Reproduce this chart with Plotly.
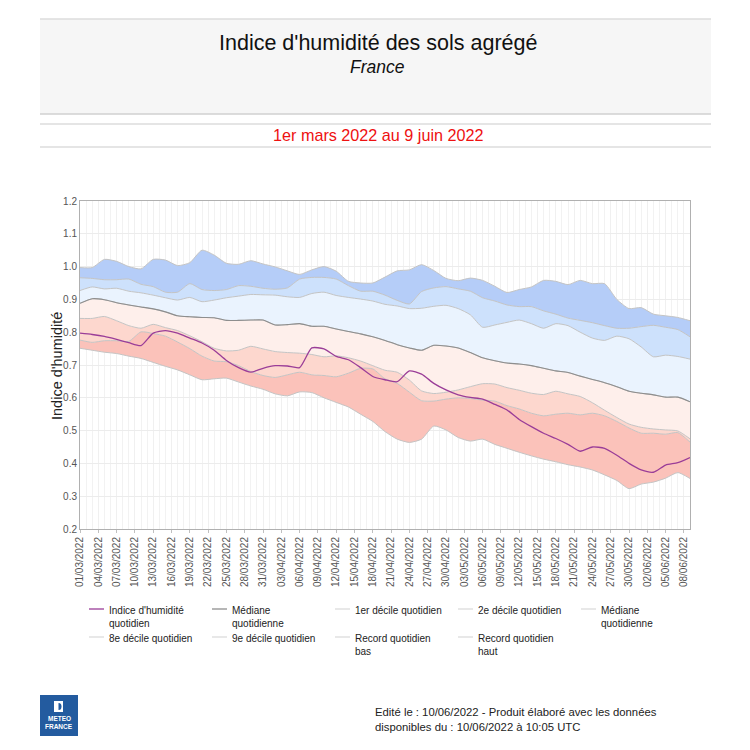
import plotly.graph_objects as go
import pandas as pd

# ---------------- data (one value every 2 days, 01/03/2022 -> 09/06/2022) ----------------
dates = pd.date_range("2022-03-01", "2022-06-09", freq="2D")

indice = [0.797, 0.793, 0.787, 0.778, 0.768, 0.759, 0.797, 0.805, 0.797, 0.782,
          0.767, 0.745, 0.714, 0.692, 0.678, 0.690, 0.698, 0.697, 0.692, 0.752,
          0.749, 0.726, 0.716, 0.692, 0.665, 0.655, 0.649, 0.682, 0.672, 0.644,
          0.624, 0.609, 0.601, 0.596, 0.580, 0.563, 0.534, 0.512, 0.492, 0.476,
          0.458, 0.437, 0.450, 0.446, 0.425, 0.400, 0.380, 0.373, 0.395, 0.402,
          0.418]

record_haut = [0.997, 0.997, 1.022, 1.016, 1.000, 0.993, 1.022, 1.020, 1.003, 1.012,
               1.050, 1.035, 1.010, 1.007, 1.018, 1.008, 0.999, 0.987, 0.976, 0.990,
               1.000, 0.986, 0.955, 0.950, 0.950, 0.968, 0.987, 0.990, 1.006, 0.988,
               0.964, 0.957, 0.965, 0.958, 0.940, 0.921, 0.930, 0.938, 0.958, 0.955,
               0.945, 0.958, 0.948, 0.948, 0.900, 0.872, 0.875, 0.855, 0.850, 0.845,
               0.835]

decile_9 = [0.966, 0.964, 0.960, 0.960, 0.962, 0.946, 0.939, 0.922, 0.922, 0.948,
            0.930, 0.927, 0.930, 0.942, 0.940, 0.934, 0.931, 0.935, 0.962, 0.967,
            0.967, 0.962, 0.942, 0.925, 0.925, 0.913, 0.897, 0.886, 0.924, 0.935,
            0.939, 0.932, 0.925, 0.905, 0.895, 0.883, 0.878, 0.878, 0.865, 0.855,
            0.843, 0.836, 0.829, 0.820, 0.812, 0.812, 0.817, 0.821, 0.815, 0.808,
            0.786]

decile_8 = [0.927, 0.938, 0.932, 0.934, 0.925, 0.920, 0.913, 0.905, 0.898, 0.906,
            0.893, 0.898, 0.905, 0.910, 0.915, 0.914, 0.913, 0.908, 0.906, 0.918,
            0.922, 0.912, 0.906, 0.901, 0.895, 0.885, 0.880, 0.872, 0.873, 0.879,
            0.882, 0.872, 0.853, 0.815, 0.822, 0.830, 0.837, 0.826, 0.812, 0.826,
            0.820, 0.800, 0.782, 0.775, 0.788, 0.780, 0.755, 0.725, 0.730, 0.726,
            0.718]

mediane = [0.888, 0.902, 0.899, 0.890, 0.883, 0.877, 0.871, 0.862, 0.850, 0.847,
           0.845, 0.844, 0.836, 0.836, 0.837, 0.837, 0.822, 0.823, 0.826, 0.818,
           0.818, 0.810, 0.802, 0.795, 0.786, 0.775, 0.762, 0.752, 0.745, 0.760,
           0.758, 0.752, 0.738, 0.722, 0.713, 0.706, 0.703, 0.698, 0.690, 0.682,
           0.677, 0.666, 0.656, 0.646, 0.634, 0.620, 0.614, 0.609, 0.602, 0.602,
           0.588]

decile_2 = [0.842, 0.842, 0.848, 0.835, 0.820, 0.812, 0.824, 0.814, 0.805, 0.789,
            0.771, 0.751, 0.743, 0.745, 0.757, 0.749, 0.741, 0.738, 0.736, 0.732,
            0.725, 0.728, 0.722, 0.712, 0.698, 0.684, 0.678, 0.654, 0.621, 0.613,
            0.617, 0.624, 0.634, 0.643, 0.642, 0.631, 0.623, 0.614, 0.610, 0.620,
            0.612, 0.604, 0.585, 0.562, 0.540, 0.520, 0.510, 0.505, 0.502, 0.499,
            0.475]

decile_1 = [0.776, 0.769, 0.774, 0.774, 0.772, 0.801, 0.796, 0.788, 0.770, 0.750,
            0.727, 0.712, 0.710, 0.698, 0.680, 0.668, 0.662, 0.670, 0.678, 0.670,
            0.668, 0.664, 0.675, 0.690, 0.688, 0.658, 0.644, 0.617, 0.591, 0.590,
            0.596, 0.600, 0.598, 0.593, 0.590, 0.576, 0.566, 0.553, 0.545, 0.550,
            0.553, 0.548, 0.553, 0.545, 0.528, 0.508, 0.492, 0.492, 0.489, 0.494,
            0.465]

record_bas = [0.751, 0.745, 0.739, 0.735, 0.727, 0.720, 0.708, 0.696, 0.685, 0.670,
              0.655, 0.658, 0.660, 0.648, 0.636, 0.626, 0.612, 0.606, 0.618, 0.616,
              0.600, 0.586, 0.572, 0.550, 0.528, 0.497, 0.474, 0.464, 0.474, 0.514,
              0.502, 0.479, 0.468, 0.474, 0.458, 0.446, 0.434, 0.423, 0.413, 0.405,
              0.396, 0.389, 0.380, 0.365, 0.348, 0.323, 0.337, 0.343, 0.355, 0.372,
              0.354]

legend_labels = ["Indice d'humidité<br>quotidien", "Médiane<br>quotidienne",
                 "1er décile quotidien", "2e décile quotidien", "Médiane<br>quotidienne",
                 "8e décile quotidien", "9e décile quotidien",
                 "Record quotidien<br>bas", "Record quotidien<br>haut"]

# ---------------- layout geometry (screen pixels; page body adds an 8 px offset) ----------------
W = H = 750
OFF = 8
SX0, SX1, SY0, SY1 = 80, 690, 201, 529        # plot area on screen
L, T = SX0 - OFF, SY0 - OFF
R, B = W - (SX1 - OFF), H - (SY1 - OFF)
PW, PH = SX1 - SX0, SY1 - SY0


def px(x):
    return (x - SX0) / PW


def py(y):
    return (SY1 - y) / PH


FONT = "Liberation Sans, Arial, sans-serif"
band_line = dict(color="#c4c4c4", width=1, shape="spline", smoothing=0.6)
legend_colors = ["#9a3d98", "#8e8e8e", "#dcdcdc", "#dcdcdc", "#dcdcdc",
                 "#dcdcdc", "#dcdcdc", "#dcdcdc", "#dcdcdc"]

fig = go.Figure()

bands = [
    (record_bas, None),
    (decile_1, "#fbc2ba"),
    (decile_2, "#fdd7ce"),
    (mediane, "#feefeb"),
    (decile_8, "#eaf3fe"),
    (decile_9, "#cde1fc"),
    (record_haut, "#b5cdf8"),
]
for vals, fc in bands:
    fig.add_trace(go.Scatter(
        x=dates, y=vals, mode="lines", line=band_line, showlegend=False,
        fill="tonexty" if fc else None, fillcolor=fc, hoverinfo="skip"))

fig.add_trace(go.Scatter(
    x=dates, y=mediane, mode="lines", showlegend=False,
    line=dict(color="#8e8e8e", width=1.1, shape="spline", smoothing=0.6)))
fig.add_trace(go.Scatter(
    x=dates, y=indice, mode="lines", showlegend=False,
    line=dict(color="#9a3d98", width=1.3, shape="spline", smoothing=0.6)))

# ---------------- decorations ----------------
def hline(y, color="#dcdcdc", w=1.5):
    return dict(type="line", xref="paper", yref="paper", x0=px(40), x1=px(711), y0=py(y), y1=py(y),
                line=dict(color=color, width=w))


shapes = [
    dict(type="rect", xref="paper", yref="paper", x0=px(40), x1=px(711), y0=py(114), y1=py(19),
         fillcolor="#f6f6f6", line=dict(width=0), layer="below"),
    hline(19), hline(114, "#d0d0d0"), hline(124), hline(147),
    # logo
    dict(type="rect", xref="paper", yref="paper", x0=px(40), x1=px(78), y0=py(736), y1=py(695),
         fillcolor="#235b9f", line=dict(width=0)),
    dict(type="rect", xref="paper", yref="paper", x0=px(54), x1=px(63), y0=py(712), y1=py(701),
         fillcolor="white", line=dict(width=0)),
    dict(type="circle", xref="paper", yref="paper", x0=px(56), x1=px(61.5), y0=py(710), y1=py(703),
         fillcolor="#235b9f", line=dict(width=0)),
    dict(type="rect", xref="paper", yref="paper", x0=px(54), x1=px(58.5), y0=py(710), y1=py(703),
         fillcolor="white", line=dict(width=0)),
]

annotations = [
    dict(text="Indice d'humidité des sols agrégé", x=px(378), y=py(43), xref="paper", yref="paper",
         showarrow=False, font=dict(size=21.5, color="#111", family=FONT), xanchor="center", yanchor="middle"),
    dict(text="<i>France</i>", x=px(377), y=py(67), xref="paper", yref="paper",
         showarrow=False, font=dict(size=17.5, color="#111", family=FONT), xanchor="center", yanchor="middle"),
    dict(text="1er mars 2022 au 9 juin 2022", x=px(378), y=py(135), xref="paper", yref="paper",
         showarrow=False, font=dict(size=16.2, color="#ee1111", family=FONT), xanchor="center", yanchor="middle"),
    dict(text="Edité le : 10/06/2022 - Produit élaboré avec les données<br>disponibles du : 10/06/2022 à 10:05 UTC",
         x=px(373), y=py(704), xref="paper", yref="paper", showarrow=False, align="left",
         font=dict(size=11.3, color="#222", family=FONT), xanchor="left", yanchor="top"),
    dict(text="<b>METEO</b>", x=px(59), y=py(718), xref="paper", yref="paper", showarrow=False,
         font=dict(size=6.5, color="white", family=FONT), xanchor="center", yanchor="middle"),
    dict(text="<b>FRANCE</b>", x=px(59), y=py(726), xref="paper", yref="paper", showarrow=False,
         font=dict(size=6.5, color="white", family=FONT), xanchor="center", yanchor="middle"),
    # y-axis title
    dict(text="Indice d'humidité", x=px(57), y=py(366), xref="paper", yref="paper", showarrow=False,
         textangle=-90, font=dict(size=14.5, color="#222", family=FONT), xanchor="center", yanchor="middle"),
]

# manual legend: 5 columns, 2 rows
for i, (lab, col) in enumerate(zip(legend_labels, legend_colors)):
    c, r = i % 5, i // 5
    x0 = 89 + 123 * c
    ytop = 603 + 28 * r
    shapes.append(dict(type="line", xref="paper", yref="paper", x0=px(x0), x1=px(x0 + 15),
                       y0=py(ytop + 6), y1=py(ytop + 6), line=dict(color=col, width=1.3)))
    annotations.append(dict(text=lab, x=px(x0 + 18), y=py(ytop), xref="paper", yref="paper",
                            showarrow=False, align="left", xanchor="left", yanchor="top",
                            font=dict(size=10, color="#222", family=FONT)))

DAY = 86400000
fig.update_layout(
    width=W, height=H,
    margin=dict(l=L, r=R, t=T, b=B, autoexpand=False),
    paper_bgcolor="white", plot_bgcolor="white",
    font=dict(family=FONT, size=10, color="#333"),
    shapes=shapes, annotations=annotations,
    showlegend=False,
    xaxis=dict(
        type="date", range=["2022-03-01", "2022-06-09"],
        tick0="2022-03-01", dtick=3 * DAY, tickformat="%d/%m/%Y", tickangle=-90,
        tickfont=dict(size=10, color="#555"),
        showgrid=True, gridcolor="#f0f0f0", gridwidth=1,
        minor=dict(dtick=DAY, tick0="2022-03-01", showgrid=True, gridcolor="#f2f2f2", gridwidth=1),
        showline=True, linecolor="#b0b0b0", linewidth=1, mirror=True,
        ticks="outside", ticklen=3, tickcolor="#c0c0c0", zeroline=False,
    ),
    yaxis=dict(
        range=[0.2, 1.2], dtick=0.1, tick0=0.2, tickformat=".1f",
        tickfont=dict(size=10, color="#555"),
        showgrid=True, gridcolor="#ececec", gridwidth=1,
        showline=True, linecolor="#b0b0b0", linewidth=1, mirror=True,
        ticks="", zeroline=False,
    ),
)

fig.write_html("out.html")
